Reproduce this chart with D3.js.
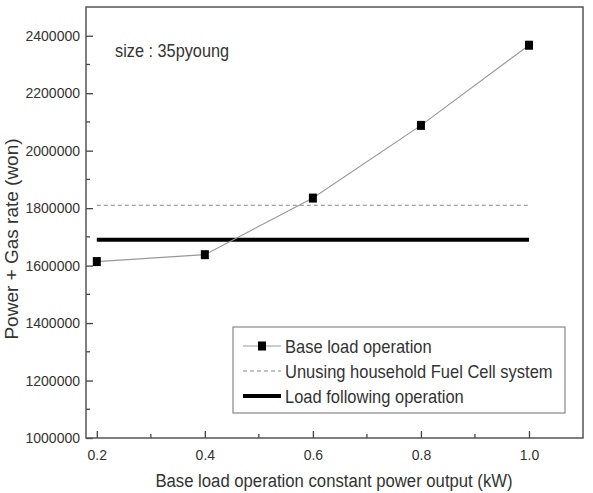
<!DOCTYPE html>
<meta charset="utf-8">
<head>
	<title>Power + Gas rate</title>
	<script type="text/javascript" src="https://d3js.org/d3.v7.min.js"></script>
	<style>
		body { margin: 0; background: #fff; }
		text { font-family: "Liberation Sans", Arial, sans-serif; fill: #333; }
	</style>
</head>
<body>
	<div id="chart"></div>
	<script>
		// data
		var outputs = [0.2, 0.4, 0.6, 0.8, 1.0];
		var baseLoad = [1614000, 1638000, 1835000, 2088000, 2367000];
		var unusingRate = 1810000;
		var loadFollowingRate = 1690000;
		var lineRange = [0.2, 1.0];
		var xTicks = [0.2, 0.4, 0.6, 0.8, 1.0];
		var yTicks = [1000000, 1200000, 1400000, 1600000, 1800000, 2000000, 2200000, 2400000];
		var legendLabels = ["Base load operation", "Unusing household Fuel Cell system", "Load following operation"];

		var w = 593, h = 493;
		var margin = {top: 7, right: 10, bottom: 55, left: 86};

		var svg = d3.select("#chart").append("svg")
			.attr("width", w).attr("height", h);

		var x = d3.scaleLinear().domain([0.18, 1.1]).range([margin.left, w - margin.right]);
		var y = d3.scaleLinear().domain([1000000, 2500000]).range([h - margin.bottom, margin.top]);

		// minor ticks (inside)
		var xMinor = d3.range(0.2, 1.05, 0.1).map(function(d) { return +d.toFixed(1); });
		var yMinor = d3.range(1100000, 2500000, 200000);

		var xAxis = d3.axisBottom(x).tickValues(xTicks).tickFormat(d3.format(".1f"))
			.tickSizeInner(-7).tickSizeOuter(0).tickPadding(12);
		var yAxis = d3.axisLeft(y).tickValues(yTicks).tickFormat(d3.format("d"))
			.tickSizeInner(-7).tickSizeOuter(0).tickPadding(6);

		var gx = svg.append("g")
			.attr("transform", "translate(0," + (h - margin.bottom) + ")")
			.call(xAxis);
		var gy = svg.append("g")
			.attr("transform", "translate(" + margin.left + ",0)")
			.call(yAxis);

		[gx, gy].forEach(function(g) {
			g.select(".domain").remove();
			g.selectAll(".tick line").attr("stroke", "#444").attr("stroke-width", 1.3);
			g.selectAll(".tick text").style("font-size", "14px").attr("fill", "#444");
		});

		svg.append("g").selectAll("line").data(xMinor.filter(function(d) { return xTicks.indexOf(d) < 0; }))
			.enter().append("line")
			.attr("x1", function(d) { return x(d); }).attr("x2", function(d) { return x(d); })
			.attr("y1", h - margin.bottom).attr("y2", h - margin.bottom - 4)
			.attr("stroke", "#444").attr("stroke-width", 1.3);
		svg.append("g").selectAll("line").data(yMinor)
			.enter().append("line")
			.attr("y1", function(d) { return y(d); }).attr("y2", function(d) { return y(d); })
			.attr("x1", margin.left).attr("x2", margin.left + 4)
			.attr("stroke", "#444").attr("stroke-width", 1.3);

		// frame
		svg.append("rect")
			.attr("x", margin.left).attr("y", margin.top)
			.attr("width", w - margin.right - margin.left)
			.attr("height", h - margin.bottom - margin.top)
			.attr("fill", "none").attr("stroke", "#555").attr("stroke-width", 1.5);

		// unusing fuel cell (dashed)
		svg.append("line")
			.attr("x1", x(lineRange[0])).attr("x2", x(lineRange[1]))
			.attr("y1", y(unusingRate)).attr("y2", y(unusingRate))
			.attr("stroke", "#888").attr("stroke-width", 1).attr("stroke-dasharray", "4,3");

		// load following (thick)
		svg.append("line")
			.attr("x1", x(lineRange[0])).attr("x2", x(lineRange[1]))
			.attr("y1", y(loadFollowingRate)).attr("y2", y(loadFollowingRate))
			.attr("stroke", "#000").attr("stroke-width", 4);

		// base load operation
		var pts = outputs.map(function(d, i) { return [d, baseLoad[i]]; });
		svg.append("path")
			.datum(pts)
			.attr("fill", "none").attr("stroke", "#999").attr("stroke-width", 1.2)
			.attr("d", d3.line().x(function(d) { return x(d[0]); }).y(function(d) { return y(d[1]); }));
		svg.append("g").selectAll("rect").data(pts).enter().append("rect")
			.attr("x", function(d) { return x(d[0]) - 4; })
			.attr("y", function(d) { return y(d[1]) - 4.5; })
			.attr("width", 8).attr("height", 9)
			.attr("fill", "#000");

		// annotation (text in the source is a little stretched vertically)
		svg.append("text")
			.attr("transform", "translate(115,57) scale(1,1.15)")
			.style("font-size", "16.3px")
			.text("size : 35pyoung");

		// legend
		var lg = svg.append("g").attr("transform", "translate(233,327)");
		lg.append("rect").attr("width", 332).attr("height", 86)
			.attr("fill", "#fff").attr("stroke", "#888").attr("stroke-width", 1.2);
		var rows = [19, 44, 69];
		lg.append("line").attr("x1", 10).attr("x2", 48).attr("y1", rows[0]).attr("y2", rows[0])
			.attr("stroke", "#999").attr("stroke-width", 1.2);
		lg.append("rect").attr("x", 25).attr("y", rows[0] - 4.5).attr("width", 8).attr("height", 9).attr("fill", "#000");
		lg.append("line").attr("x1", 10).attr("x2", 48).attr("y1", rows[1]).attr("y2", rows[1])
			.attr("stroke", "#888").attr("stroke-width", 1).attr("stroke-dasharray", "4,3");
		lg.append("line").attr("x1", 10).attr("x2", 48).attr("y1", rows[2]).attr("y2", rows[2])
			.attr("stroke", "#000").attr("stroke-width", 4);
		lg.selectAll("text.lbl").data(legendLabels).enter().append("text")
			.attr("class", "lbl")
			.attr("transform", function(d, i) { return "translate(52," + (rows[i] + 7) + ") scale(1,1.15)"; })
			.style("font-size", "16.5px")
			.text(function(d) { return d; });

		// axis titles
		svg.append("text")
			.attr("transform", "translate(" + ((margin.left + w - margin.right) / 2 - 0.5) + ",487) scale(1,1.05)")
			.attr("text-anchor", "middle")
			.style("font-size", "16.7px")
			.text("Base load operation constant power output (kW)");
		svg.append("text")
			.attr("transform", "translate(18,239) rotate(-90)")
			.attr("text-anchor", "middle")
			.style("font-size", "19px")
			.text("Power + Gas rate (won)");
	</script>
</body>
</html>
